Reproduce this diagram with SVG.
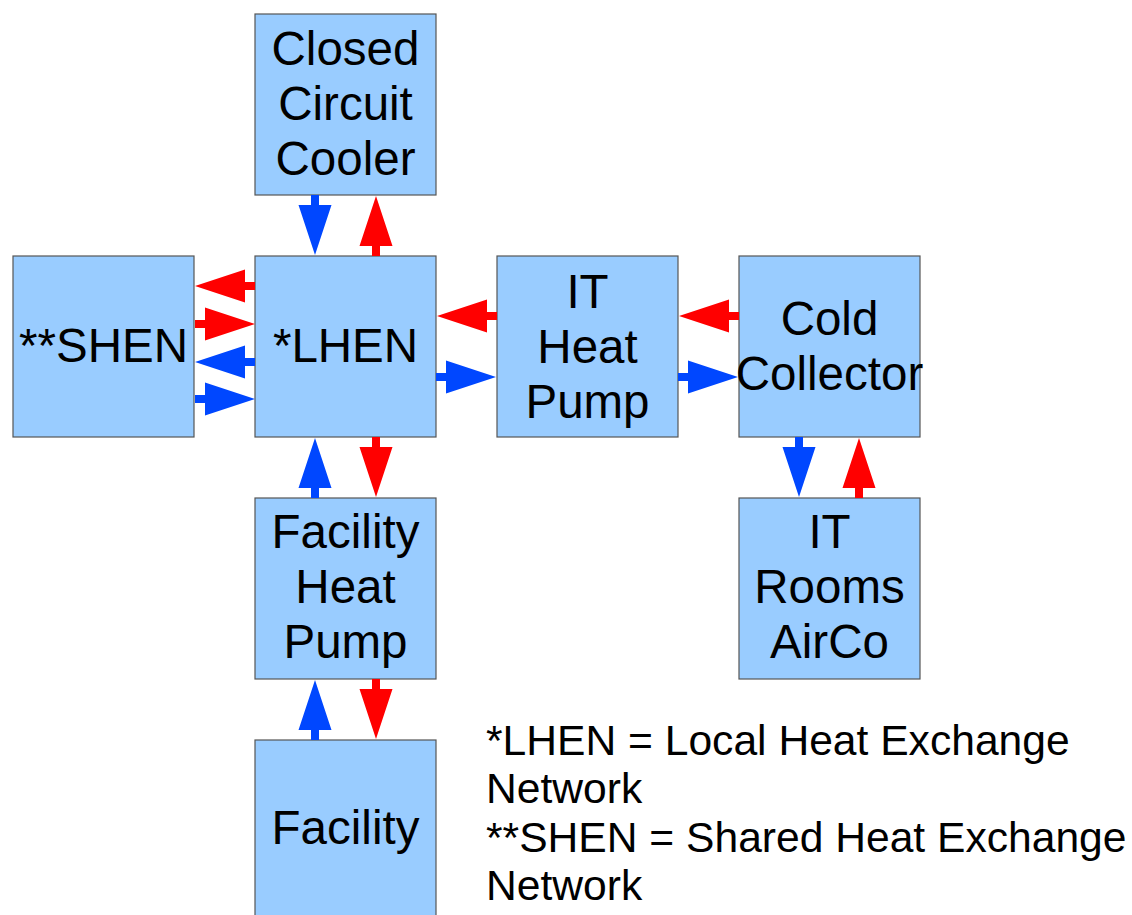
<svg xmlns="http://www.w3.org/2000/svg" xmlns:xlink="http://www.w3.org/1999/xlink" width="1132" height="915" viewBox="0 0 1132 915">
<style>
.box{fill:#99ccff;stroke:#555555;stroke-width:1.2}
.lbl{font-family:"Liberation Sans",Arial,sans-serif;font-size:47.5px;fill:#000;text-anchor:middle}
.leg{font-family:"Liberation Sans",Arial,sans-serif;font-size:42.6px;fill:#000}
.red{fill:#ff0000}
.blue{fill:#0047ff}
</style>
<defs>
<path id="arr" d="M0,0 L-50,-16.5 L-50,-4 L-60,-4 L-60,4 L-50,4 L-50,16.5 Z"/>
</defs>
<rect x="0" y="0" width="1132" height="915" fill="#ffffff"/>
<g id="ccc"><rect class="box" x="255" y="14" width="181" height="181"/>
<text class="lbl" x="345.5" y="65">Closed</text><text class="lbl" x="345.5" y="120">Circuit</text><text class="lbl" x="345.5" y="175">Cooler</text></g>
<g id="shen"><rect class="box" x="13" y="256" width="181" height="181"/>
<text class="lbl" x="103.5" y="362">**SHEN</text></g>
<g id="lhen"><rect class="box" x="255" y="256" width="181" height="181"/>
<text class="lbl" x="345.5" y="362">*LHEN</text></g>
<g id="ithp"><rect class="box" x="497" y="256" width="181" height="181"/>
<text class="lbl" x="587.5" y="308">IT</text><text class="lbl" x="587.5" y="363">Heat</text><text class="lbl" x="587.5" y="418">Pump</text></g>
<g id="cold"><rect class="box" x="739" y="256" width="181" height="181"/>
<text class="lbl" x="829.5" y="335">Cold</text><text class="lbl" x="829.5" y="390">Collector</text></g>
<g id="itrooms"><rect class="box" x="739" y="498" width="181" height="181"/>
<text class="lbl" x="829.5" y="548">IT</text><text class="lbl" x="829.5" y="603">Rooms</text><text class="lbl" x="829.5" y="658">AirCo</text></g>
<g id="fhp"><rect class="box" x="255" y="498" width="181" height="181"/>
<text class="lbl" x="345.5" y="548">Facility</text><text class="lbl" x="345.5" y="603">Heat</text><text class="lbl" x="345.5" y="658">Pump</text></g>
<g id="facility"><rect class="box" x="255" y="740" width="181" height="190"/>
<text class="lbl" x="345.5" y="844">Facility</text></g>
<g id="connectors">
<use xlink:href="#arr" class="red" transform="translate(195,286) rotate(180)"/>
<use xlink:href="#arr" class="red" transform="translate(255,324)"/>
<use xlink:href="#arr" class="blue" transform="translate(195,362) rotate(180)"/>
<use xlink:href="#arr" class="blue" transform="translate(255,399)"/>
<use xlink:href="#arr" class="red" transform="translate(437,316) rotate(180)"/>
<use xlink:href="#arr" class="blue" transform="translate(496,377)"/>
<use xlink:href="#arr" class="red" transform="translate(679,316) rotate(180)"/>
<use xlink:href="#arr" class="blue" transform="translate(738,377)"/>
<use xlink:href="#arr" class="blue" transform="translate(315,255) rotate(90)"/>
<use xlink:href="#arr" class="red" transform="translate(376,196) rotate(-90)"/>
<use xlink:href="#arr" class="blue" transform="translate(799,497) rotate(90)"/>
<use xlink:href="#arr" class="red" transform="translate(859,438) rotate(-90)"/>
<use xlink:href="#arr" class="blue" transform="translate(315,438) rotate(-90)"/>
<use xlink:href="#arr" class="red" transform="translate(376,497) rotate(90)"/>
<use xlink:href="#arr" class="blue" transform="translate(315,680) rotate(-90)"/>
<use xlink:href="#arr" class="red" transform="translate(376,739) rotate(90)"/>
</g>
<g id="legend">
<text class="leg" x="486" y="755">*LHEN = Local Heat Exchange</text>
<text class="leg" x="486" y="803">Network</text>
<text class="leg" x="486" y="852">**SHEN = Shared Heat Exchange</text>
<text class="leg" x="486" y="900">Network</text>
</g>
</svg>
